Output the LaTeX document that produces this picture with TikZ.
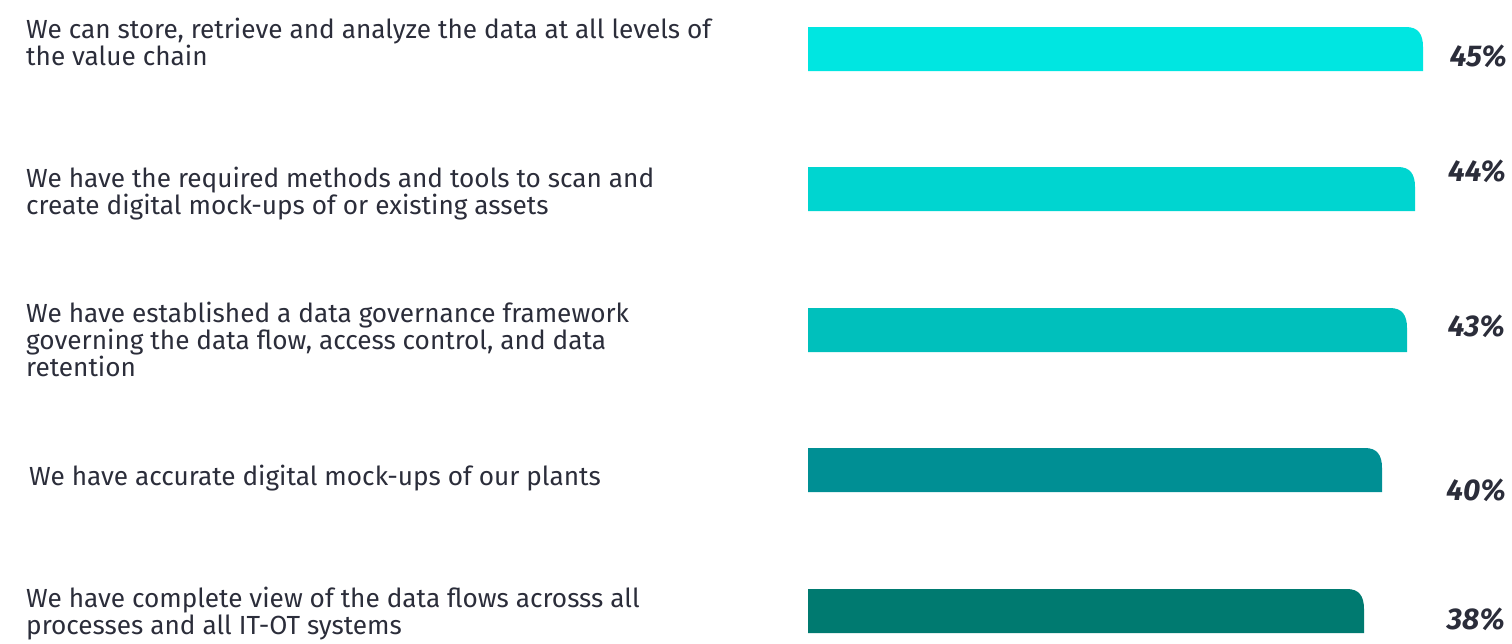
\documentclass[tikz,border=0pt]{standalone}
\usepackage{fontspec}
\setmainfont{Fira Sans}
\definecolor{txt}{HTML}{2B2D3A}
\definecolor{barA}{HTML}{00E6E1}
\definecolor{barB}{HTML}{00D5D0}
\definecolor{barC}{HTML}{00C0BC}
\definecolor{barD}{HTML}{008F94}
\definecolor{barE}{HTML}{007A70}
\tikzset{
  lbl/.style={anchor=base west, inner sep=0pt, align=left, text=txt,
    font=\fontsize{26.2}{27}\selectfont},
  pct/.style={anchor=base east, inner sep=0pt, text=txt,
    font=\fontsize{30}{31}\selectfont\bfseries\itshape},
}
\newcommand{\mybar}[3]{% color, top y, right x
  \fill[#1] (808,#2+44) -- (808,#2) -- (#3-17,#2)
    .. controls (#3-5,#2) and (#3,#2+7) .. (#3,#2+20) -- (#3,#2+44) -- cycle;
}
\begin{document}
\begin{tikzpicture}[x=1pt,y=-1pt]
\useasboundingbox (0,0) rectangle (1512,643);
\mybar{barA}{27}{1423}
\mybar{barB}{167}{1415}
\mybar{barC}{308}{1407}
\mybar{barD}{448}{1382}
\mybar{barE}{589}{1364}
\node[lbl] (t1) at (26,65) {We can store, retrieve and analyze the data at all levels of\\the value chain};
\node[lbl] (t2) at (26,214) {We have the required methods and tools to scan and\\create digital mock-ups of or existing assets};
\node[lbl] (t3) at (26,376) {We have established a data governance framework\\governing the data flow, access control, and data\\retention};
\node[lbl] (t4) at (29,485) {We have accurate digital mock-ups of our plants};
\node[lbl] (t5) at (26,634) {We have complete view of the data flows acrosss all\\processes and all IT-OT systems};
\node[pct] (p1) at (1507,66) {45\%};
\node[pct] (p2) at (1506,181) {44\%};
\node[pct] (p3) at (1505,336) {43\%};
\node[pct] (p4) at (1506,500) {40\%};
\node[pct] (p5) at (1505,629) {38\%};
\end{tikzpicture}
\end{document}
